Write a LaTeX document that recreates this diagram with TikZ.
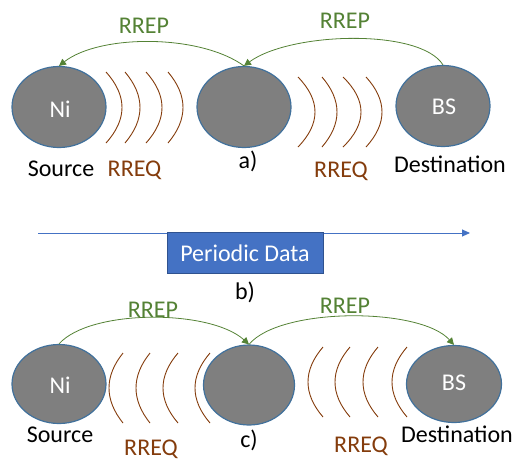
\documentclass[tikz,border=0pt]{standalone}
\usepackage{fontspec}
\setmainfont{Carlito}
\usetikzlibrary{shapes.geometric,arrows.meta}
\definecolor{nodegray}{RGB}{127,127,127}
\definecolor{nodeblue}{RGB}{65,113,156}
\definecolor{repgreen}{RGB}{84,130,53}
\definecolor{reqbrown}{RGB}{132,60,12}
\definecolor{boxblue}{RGB}{68,114,196}
\definecolor{boxedge}{RGB}{47,82,143}
\tikzset{
  station/.style={ellipse,draw=nodeblue,line width=1.2pt,fill=nodegray,text=white,inner sep=0pt,minimum width=94pt,minimum height=81pt},
  lbl/.style={anchor=base,inner sep=0pt,font=\fontsize{24}{27}\selectfont},
  replbl/.style={lbl,text=repgreen},
  reqlbl/.style={lbl,text=reqbrown},
  wave/.style={draw=reqbrown,line width=0.9pt},
  reparrow/.style={draw=repgreen,line width=0.8pt,-{Triangle[width=7pt,length=7pt]}},
}
\newcommand\wavearc[4]{\draw[wave] (#1,#2-#3) .. controls ({#1+4*#4/3},{#2-#3/3}) and ({#1+4*#4/3},{#2+#3/3}) .. (#1,#2+#3);}
\begin{document}
\begin{tikzpicture}[x=1pt,y=-1pt]
\useasboundingbox (0,0) rectangle (515,461);
% ---- a) ----
\node[station] (ni1) at (59,107) {};
\node[station] (mid1) at (244,107) {};
\node[station] (bs1) at (443,106) {};
\node[lbl,text=white] (tni1) at (60,117) {Ni};
\node[lbl,text=white] (tbs1) at (444,114) {BS};
\wavearc{106}{107.5}{35.5}{16}
\wavearc{125}{107.5}{35.5}{15}
\wavearc{146}{107.5}{35.5}{16}
\wavearc{168}{107.5}{35.5}{15}
\wavearc{298}{112}{35}{17}
\wavearc{322}{112}{35}{15}
\wavearc{343}{112}{35}{18}
\wavearc{366}{112}{35}{16}
\draw[reparrow] (mid1.north) .. controls (200,34) and (100,34) .. (ni1.north);
\draw[reparrow] (bs1.north) .. controls (420,28) and (290,32) .. (mid1.north);
\node[replbl] (rp1) at (144,33) {RREP};
\node[replbl] (rp2) at (345,28) {RREP};
\node[lbl] (src1) at (61,176) {Source};
\node[reqlbl] (rq1) at (134.5,176) {RREQ};
\node[lbl] (la) at (248,168) {a)};
\node[reqlbl] (rq2) at (341,177) {RREQ};
\node[lbl] (dst1) at (450,172) {Destination};
% ---- b) ----
\coordinate (ls) at (38,233);
\coordinate (le) at (470,233);
\draw[draw=boxblue,line width=0.9pt,-{Triangle[width=7pt,length=8pt]}] (ls) -- (le);
\node[draw=boxedge,line width=0.8pt,fill=boxblue,minimum width=156pt,minimum height=41pt,inner sep=0pt] (pd) at (245,252.5) {};
\node[lbl,text=white] (tpd) at (245,261) {Periodic Data};
\node[lbl] (lb) at (245,299) {b)};
% ---- c) ----
\node[station,minimum height=79pt] (ni2) at (59,384) {};
\node[station,minimum width=91pt,minimum height=80pt] (mid2) at (249,385) {};
\node[station,minimum width=95pt,minimum height=77pt] (bs2) at (454,384) {};
\node[lbl,text=white] (tni2) at (60,393) {Ni};
\node[lbl,text=white] (tbs2) at (454,390) {BS};
\wavearc{123}{388}{35}{-14}
\wavearc{150}{388}{35}{-14}
\wavearc{178}{388}{35}{-15}
\wavearc{210}{388}{35}{-15}
\wavearc{323}{382}{35}{-15}
\wavearc{350}{382}{35}{-15}
\wavearc{378}{382}{35}{-15}
\wavearc{407}{382}{35}{-15}
\draw[reparrow] (ni2.north) .. controls (90,309) and (210,309) .. (mid2.north);
\draw[reparrow] (mid2.north) .. controls (280,307) and (420,307) .. (bs2.north);
\node[replbl] (rp3) at (153,317) {RREP};
\node[replbl] (rp4) at (345,313) {RREP};
\node[lbl] (src2) at (60,442) {Source};
\node[reqlbl] (rq3) at (151,455) {RREQ};
\node[lbl] (lc) at (249,447) {c)};
\node[reqlbl] (rq4) at (361,452) {RREQ};
\node[lbl] (dst2) at (457,442) {Destination};
\end{tikzpicture}
\end{document}
